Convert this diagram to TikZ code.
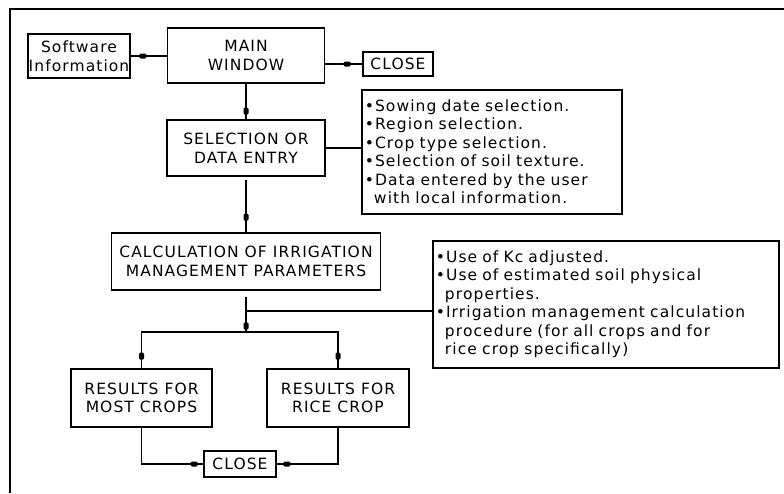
\documentclass[tikz,border=0pt]{standalone}
\usepackage{fontspec}
\newfontfamily\cadfont{DejaVu Sans}[LetterSpace=7.0]
\usetikzlibrary{calc}
\begin{document}
\begin{tikzpicture}[x=1pt,y=-1pt,
  every node/.style={font=\cadfont\fontsize{15.5}{18.5}\selectfont},
  box/.style={draw, line width=1.7pt, inner sep=0pt, align=center},
  note/.style={draw, line width=1.7pt, inner xsep=3pt, inner ysep=0pt, align=left, anchor=north west},
  conn/.style={line width=1.7pt},
  hblob/.style={fill, inner sep=0pt, minimum width=7pt, minimum height=5pt, rounded corners=1.2pt},
  vblob/.style={fill, inner sep=0pt, minimum width=5pt, minimum height=7pt, rounded corners=1.2pt},
  frame/.style={line width=1.4pt}]
\useasboundingbox (0,0) rectangle (784,493);
\draw[frame] (10,493) -- (10,9) -- (784,9);

\node[box, minimum width=102pt, minimum height=44pt] (sw) at (79,56) {Software\\Information};
\node[box, minimum width=157pt, minimum height=55pt] (main) at (246,55.5) {MAIN\\WINDOW};
\node[box, minimum width=70pt, minimum height=24pt] (close1) at (398,64) {CLOSE};
\node[box, minimum width=158pt, minimum height=56pt] (sel) at (246,148) {SELECTION OR\\DATA ENTRY};
\node[note, text width=254pt, minimum height=124pt] (info1) at (361,89)
  {•Sowing date selection.\\
   •Region selection.\\
   •Crop type selection.\\
   •Selection of soil texture.\\
   •Data entered by the user\\
   \hphantom{•}with local information.};
\node[box, minimum width=269pt, minimum height=57pt] (calc) at (246,261.5) {CALCULATION OF IRRIGATION\\MANAGEMENT PARAMETERS};
\node[note, text width=340pt, minimum height=127pt] (info2) at (432,240)
  {•Use of Kc adjusted.\\
   •Use of estimated soil physical\\
   \hphantom{•}properties.\\
   •Irrigation management calculation\\
   \hphantom{•}procedure (for all crops and for\\
   \hphantom{•}rice crop specifically)};
\node[box, minimum width=141pt, minimum height=58pt] (res1) at (141.5,398) {RESULTS FOR\\MOST CROPS};
\node[box, minimum width=142pt, minimum height=58pt] (res2) at (338,398) {RESULTS FOR\\RICE CROP};
\node[box, minimum width=72pt, minimum height=26pt] (close2) at (240,464) {CLOSE};

\coordinate (split) at (246,332);
\coordinate (tap) at (246,311);

\draw[conn] (sw.east -| main.west) -- (sw.east) node[hblob, xshift=12pt] {};
\draw[conn] (close1.west -| main.east) -- (close1.west) node[hblob, xshift=-15pt] {};
\draw[conn] (main.south) -- (sel.north) node[vblob, yshift=8pt] {};
\draw[conn] (sel.east) -- (sel.east -| info1.west);
\draw[conn, shorten <=3pt] (sel.south) -- (calc.north) node[vblob, yshift=15pt] {};
\draw[conn, shorten <=6pt] (calc.south) -- (split) node[vblob, yshift=6pt] {};
\draw[conn] (tap) -- (tap -| info2.west);
\draw[conn] (res1.north) -- (res1.north |- split) -- (res2.north |- split) -- (res2.north);
\node[vblob, yshift=12pt] at (res1.north) {};
\node[vblob, yshift=12pt] at (res2.north) {};
\draw[conn] (res1.south) -- (res1.south |- close2.west) -- (close2.west) node[hblob, xshift=-9pt] {};
\draw[conn] (res2.south) -- (res2.south |- close2.east) -- (close2.east) node[hblob, xshift=10pt] {};
\end{tikzpicture}
\end{document}
